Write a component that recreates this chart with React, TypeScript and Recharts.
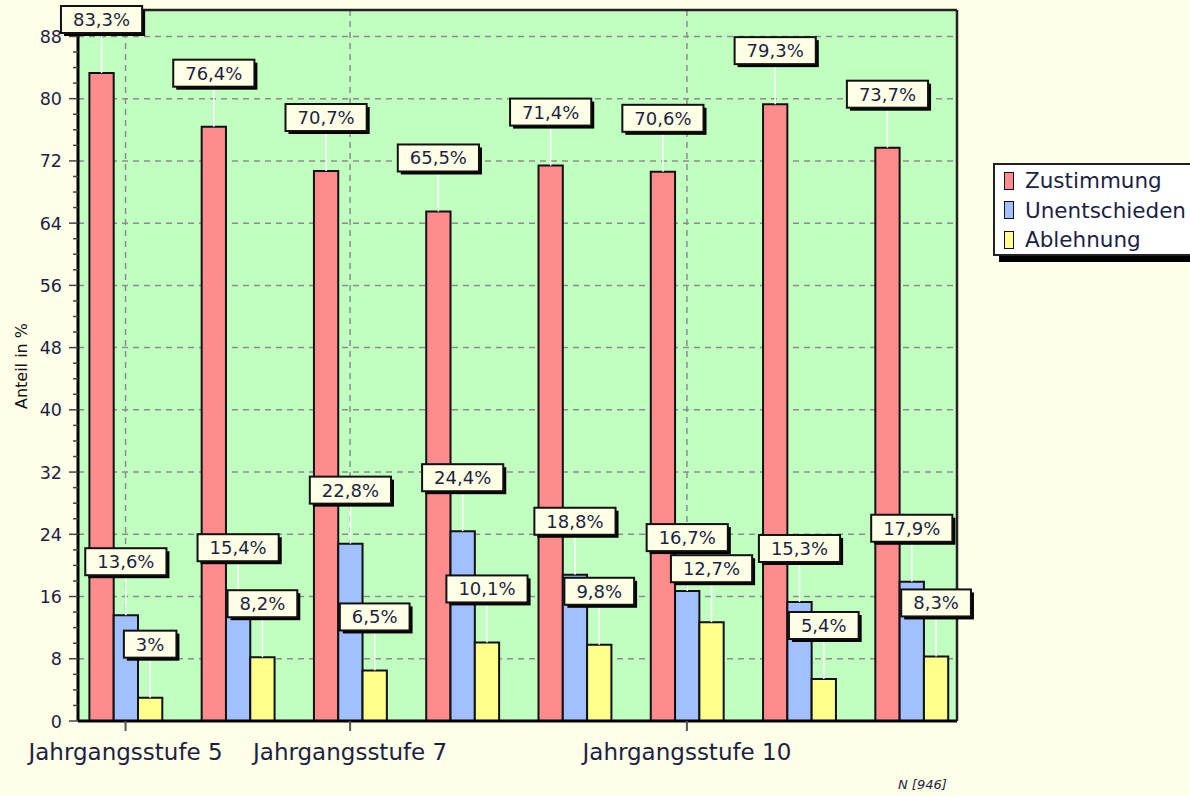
import React from 'react';
import { BarChart, Bar, XAxis, YAxis, CartesianGrid, LabelList, Legend } from 'recharts';

// Chart data
const categories = [
  'Jahrgangsstufe 5', 'Jahrgangsstufe 6', 'Jahrgangsstufe 7', 'Jahrgangsstufe 8',
  'Jahrgangsstufe 9', 'Jahrgangsstufe 10', 'Jahrgangsstufe 11', 'Jahrgangsstufe 12'
];
const zustimmung = [83.3, 76.4, 70.7, 65.5, 71.4, 70.6, 79.3, 73.7];
const unentschieden = [13.6, 15.4, 22.8, 24.4, 18.8, 16.7, 15.3, 17.9];
const ablehnung = [3, 8.2, 6.5, 10.1, 9.8, 12.7, 5.4, 8.3];

const labeledCategories = ['Jahrgangsstufe 5', 'Jahrgangsstufe 7', 'Jahrgangsstufe 10'];
const yTicks = [0, 2, 4, 6, 8, 10, 12, 14, 16, 18, 20, 22, 24, 26, 28, 30, 32, 34, 36, 38, 40, 42, 44,
  46, 48, 50, 52, 54, 56, 58, 60, 62, 64, 66, 68, 70, 72, 74, 76, 78, 80, 82, 84, 86, 88, 90];
const yMajorTicks = [0, 8, 16, 24, 32, 40, 48, 56, 64, 72, 80, 88];
const yGridValues = [8, 16, 24, 32, 40, 48, 56, 64, 72, 80, 88];
const yMax = 91.4;

const series = [
  { key: 'zustimmung', name: 'Zustimmung', color: '#ff8c8c' },
  { key: 'unentschieden', name: 'Unentschieden', color: '#a0c0ff' },
  { key: 'ablehnung', name: 'Ablehnung', color: '#ffff8c' },
];

const data = categories.map((name, i) => ({
  name,
  zustimmung: zustimmung[i],
  unentschieden: unentschieden[i],
  ablehnung: ablehnung[i],
}));

const FONT = '"DejaVu Sans", Verdana, sans-serif';
const TEXT = '#1c1f44';

// rough DejaVu Sans glyph widths (em)
const charWidth = (c: string) => (c === ',' ? 0.318 : c === '%' ? 0.95 : 0.636);
const textWidth = (s: string, size: number) => s.split('').reduce((sum, c) => sum + charWidth(c), 0) * size;

const fmt = (v: number) => `${String(v).replace('.', ',')}%`;

const ValueBox = (props: any) => {
  const { x, y, width, value } = props;
  const text = fmt(value);
  const cx = x + width / 2;
  const w = textWidth(text, 18) + 24;
  const h = 27;
  const bottom = y - 40;
  const top = bottom - h;
  return (
    <g>
      <line x1={cx} x2={cx} y1={bottom} y2={y} stroke="#ffffff" strokeWidth={1.5} />
      <rect x={cx - w / 2 + 3} y={top + 3} width={w} height={h} fill="#000" />
      <rect x={cx - w / 2} y={top} width={w} height={h} fill="#ffffe6" stroke="#111" strokeWidth={2} />
      <text x={cx} y={top + h / 2 + 6.5} textAnchor="middle" fontSize={18} fontFamily={FONT} fill={TEXT}>
        {text}
      </text>
    </g>
  );
};

const YTick = (props: any) => {
  const { x, y, payload } = props;
  const major = yMajorTicks.includes(payload.value);
  return (
    <g>
      <line x1={x - (major ? 9 : 5)} x2={x} y1={y} y2={y} stroke="#444" strokeWidth={1.5} />
      {major && (
        <text x={x - 16} y={y + 6.5} textAnchor="end" fontSize={17.5} fontFamily={FONT} fill={TEXT}>
          {payload.value}
        </text>
      )}
    </g>
  );
};

const XTick = (props: any) => {
  const { x, y, payload } = props;
  return (
    <g>
      <line x1={x} x2={x} y1={y} y2={y + 10} stroke="#555" strokeWidth={2} />
      <text x={x} y={y + 39} textAnchor="middle" fontSize={23} fontFamily={FONT} fill={TEXT}>
        {payload.value}
      </text>
    </g>
  );
};

const LegendBox = () => (
  <div
    style={{
      width: 230,
      border: '2px solid #222',
      background: '#ffffff',
      boxShadow: '6px 6px 0 #000',
      padding: '1px 0 0 9px',
      boxSizing: 'border-box',
      height: 93,
      fontFamily: FONT,
    }}
  >
    {series.map(s => (
      <div key={s.key} style={{ display: 'flex', alignItems: 'center', height: 29.5 }}>
        <span
          style={{
            display: 'inline-block',
            width: 10,
            height: 18,
            background: s.color,
            border: '1.5px solid #111',
            boxSizing: 'border-box',
            marginRight: 11,
          }}
        />
        <span style={{ fontSize: 21.5, color: TEXT, whiteSpace: 'nowrap' }}>{s.name}</span>
      </div>
    ))}
  </div>
);

export default function App() {
  return (
    <div
      style={{
        position: 'absolute',
        left: 0,
        top: 0,
        width: 1190,
        height: 796,
        overflow: 'hidden',
        background: '#fffee8',
        fontFamily: FONT,
      }}
    >
      <BarChart
        width={1190}
        height={796}
        data={data}
        margin={{ top: 8, right: 231, bottom: 30, left: 28 }}
        barGap={0}
        barSize={24.3}
      >
        <CartesianGrid
          stroke="#8c8c8c"
          strokeDasharray="6 5"
          strokeWidth={1.5}
          fill="#c0ffc0"
          fillOpacity={1}
          horizontalValues={yGridValues}
        />
        <XAxis
          dataKey="name"
          height={45}
          ticks={labeledCategories}
          interval={0}
          tick={<XTick />}
          tickLine={false}
          tickSize={0}
          tickMargin={0}
          padding={{ left: -8.6, right: -10.6 }}
          axisLine={{ stroke: '#000', strokeWidth: 3 }}
        />
        <XAxis
          xAxisId="top"
          orientation="top"
          dataKey="name"
          height={2}
          tick={false}
          tickLine={false}
          axisLine={{ stroke: '#222', strokeWidth: 2.5 }}
        />
        <YAxis
          width={50}
          domain={[0, yMax]}
          ticks={yTicks}
          interval={0}
          tick={<YTick />}
          tickLine={false}
          tickSize={0}
          tickMargin={0}
          axisLine={{ stroke: '#000', strokeWidth: 3 }}
        />
        <YAxis
          yAxisId="right"
          orientation="right"
          width={2}
          domain={[0, yMax]}
          tick={false}
          tickLine={false}
          axisLine={{ stroke: '#222', strokeWidth: 2.5 }}
        />
        <Legend
          layout="vertical"
          align="center"
          verticalAlign="middle"
          wrapperStyle={{ left: 993, top: 163 }}
          content={() => <LegendBox />}
        />
        {series.map(s => (
          <Bar
            key={s.key}
            dataKey={s.key}
            name={s.name}
            fill={s.color}
            stroke="#111"
            strokeWidth={2}
            isAnimationActive={false}
          >
            <LabelList dataKey={s.key} content={ValueBox} />
          </Bar>
        ))}
      </BarChart>
      <div
        style={{
          position: 'absolute',
          left: 21,
          top: 366,
          transform: 'translate(-50%, -50%) rotate(-90deg)',
          whiteSpace: 'nowrap',
          fontSize: 16,
          color: '#111',
        }}
      >
        Anteil in %
      </div>
      <div
        style={{
          position: 'absolute',
          left: 898,
          top: 777,
          fontSize: 13,
          fontStyle: 'italic',
          color: TEXT,
          whiteSpace: 'nowrap',
        }}
      >
        N [946]
      </div>
    </div>
  );
}
